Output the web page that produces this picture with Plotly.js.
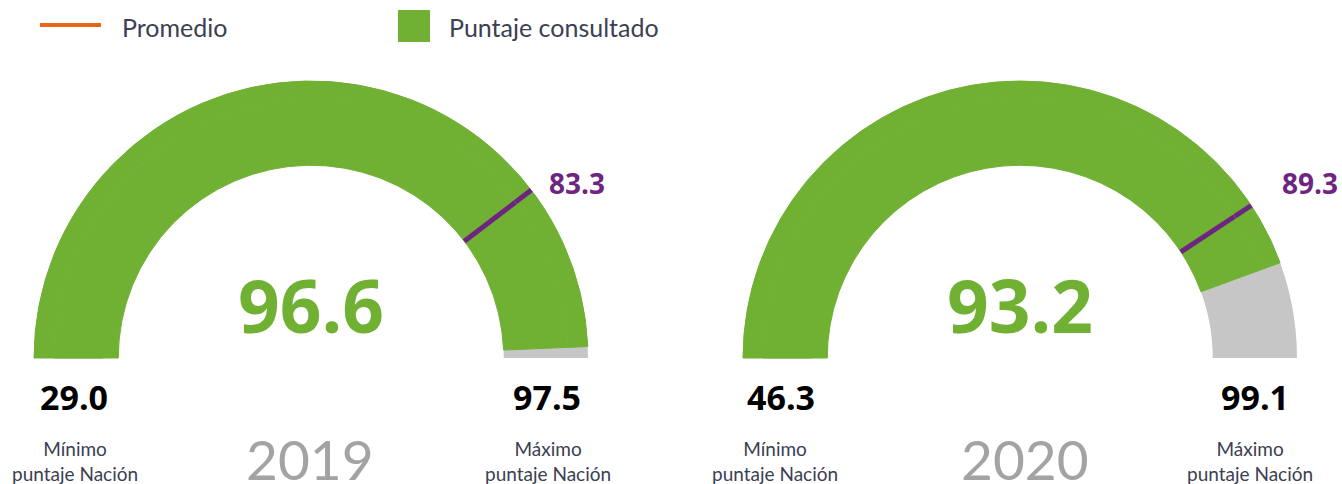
<!DOCTYPE html>
<html>
<head>
<meta charset="utf-8">
<script src="https://cdn.plot.ly/plotly-3.0.1.min.js"></script>
<style>html,body{margin:0;padding:0;background:#fff;}#chart{width:1342px;height:484px;}</style>
</head>
<body>
<div id="chart"></div>
<script>
// Data
var years = ["2019", "2020"];
var scores = [96.6, 93.2];          // Puntaje consultado
var averages = [83.3, 89.3];        // Promedio
var minScores = [29.0, 46.3];       // Mínimo puntaje Nación
var maxScores = [97.5, 99.1];       // Máximo puntaje Nación
var legendLabels = ["Promedio", "Puntaje consultado"];
var minLabel = "Mínimo<br>puntaje Nación";
var maxLabel = "Máximo<br>puntaje Nación";

var GREEN = "#70b133", GREY = "#c6c6c6", PURPLE = "#6e2581", ORANGE = "#e8661c";
var DARK = "#3b4052", YEARGREY = "#a3a3a3";

var W = 1342, H = 484;
// gauge geometry (pixels)
var centers = [311, 1020], cy = 358;
var radii = [277, 257];   // outer band + inner band (together: ring 193..277)
var minOff = [[-237, -236], [-239, -245]];   // [number, label] x offsets
var maxOff = [[236, 237], [235, 230]];
var avgOff = [266, 290];
var yearOff = [-1, 5];

var data = [], annotations = [], shapes = [];
function px(x){return x / W;}
function py(y){return 1 - y / H;}

for (var i = 0; i < years.length; i++) {
  var cx = centers[i];
  radii.forEach(function(R){
    data.push({
      type: "indicator",
      mode: "gauge",
      value: scores[i],
      domain: {x: [px(cx - R), px(cx + R)], y: [py(cy), py(cy - R)]},
      gauge: {
        shape: "angular",
        axis: {range: [minScores[i], maxScores[i]], visible: false},
        bar: {color: GREEN, thickness: 1, line: {color: GREEN, width: 1}},
        bgcolor: GREY,
        borderwidth: 0,
        threshold: {line: {color: PURPLE, width: 5}, thickness: 1, value: averages[i]}
      }
    });
  });
  annotations.push(
    {x: px(cx), y: py(304), text: "<b>" + scores[i].toFixed(1) + "</b>",
     font: {family: "Open Sans", size: 73, color: GREEN}},
    {x: px(cx + minOff[i][0]), y: py(397), text: "<b>" + minScores[i].toFixed(1) + "</b>",
     font: {family: "Open Sans", size: 34, color: "#000"}},
    {x: px(cx + maxOff[i][0]), y: py(397), text: "<b>" + maxScores[i].toFixed(1) + "</b>",
     font: {family: "Open Sans", size: 34, color: "#000"}},
    {x: px(cx + avgOff[i]), y: py(183), text: "<b>" + averages[i].toFixed(1) + "</b>",
     font: {family: "Open Sans", size: 28, color: PURPLE}},
    {x: px(cx + minOff[i][1]), y: py(461), text: minLabel, font: {family: "Lato", size: 19, color: DARK}},
    {x: px(cx + maxOff[i][1]), y: py(461), text: maxLabel, font: {family: "Lato", size: 19, color: DARK}},
    {x: px(cx + yearOff[i]), y: py(459), text: years[i],
     font: {family: "Lato", size: 55, color: YEARGREY}}
  );
}
annotations.forEach(function(a){a.xref="paper";a.yref="paper";a.showarrow=false;a.xanchor="center";a.yanchor="middle";});

// Legend
shapes.push({type: "line", xref: "paper", yref: "paper", x0: px(40), x1: px(101), y0: py(25), y1: py(25),
             line: {color: ORANGE, width: 4}});
shapes.push({type: "rect", xref: "paper", yref: "paper", x0: px(398), x1: px(430), y0: py(42), y1: py(10),
             fillcolor: GREEN, line: {width: 0}});
annotations.push(
  {xref: "paper", yref: "paper", x: px(120), y: py(27), xanchor: "left", yanchor: "middle", showarrow: false,
   text: legendLabels[0], font: {family: "Lato", size: 25, color: DARK}},
  {xref: "paper", yref: "paper", x: px(447), y: py(27), xanchor: "left", yanchor: "middle", showarrow: false,
   text: legendLabels[1], font: {family: "Lato", size: 25, color: DARK}}
);

var layout = {
  width: W, height: H,
  margin: {l: 0, r: 0, t: 0, b: 0},
  paper_bgcolor: "#fff",
  showlegend: false,
  annotations: annotations,
  shapes: shapes
};
Plotly.newPlot("chart", data, layout, {displayModeBar: false, staticPlot: true});
</script>
</body>
</html>
